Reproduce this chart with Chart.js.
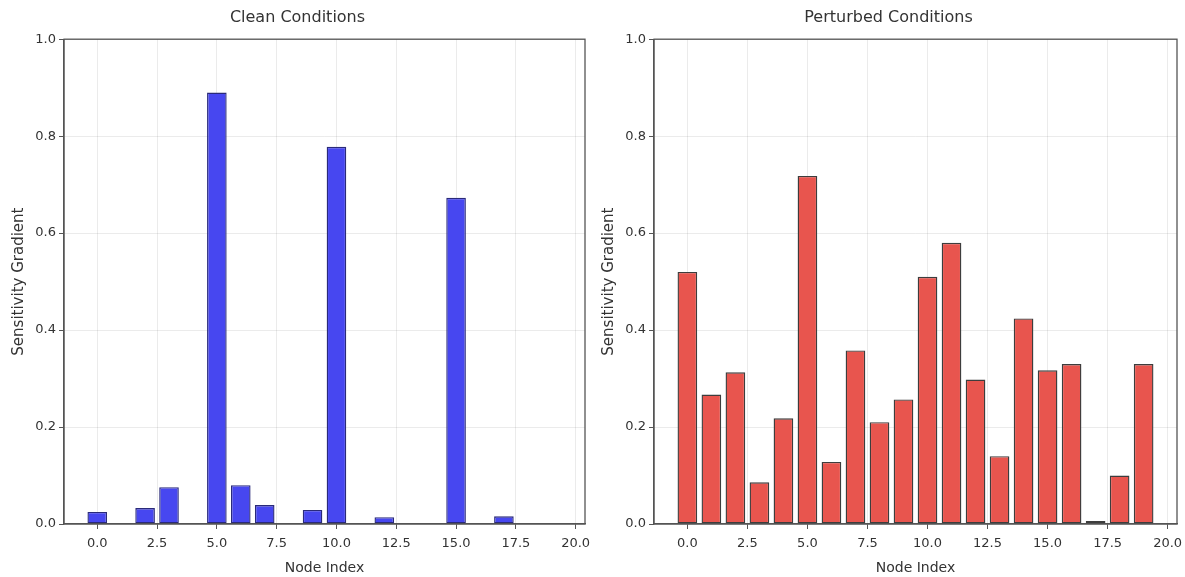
<!DOCTYPE html>
<html>
<head>
<meta charset="utf-8">
<script src="https://cdn.jsdelivr.net/npm/chart.js@4"></script>
<style>
  body { margin: 0; background: #fff; }
  .box { position: absolute; top: 0; height: 577px; }
</style>
</head>
<body>
<div class="box" style="left:0;width:592px"><canvas id="clean"></canvas></div>
<div class="box" style="left:592px;width:593px"><canvas id="perturbed"></canvas></div>
<script>
// node indices and gradient values
var nodeIdx = [0, 1, 2, 3, 4, 5, 6, 7, 8, 9, 10, 11, 12, 13, 14, 15, 16, 17, 18, 19];
var cleanVals = [0.025, 0, 0.033, 0.076, 0, 0.89, 0.080, 0.039, 0, 0.029,
                 0.778, 0, 0.014, 0, 0, 0.673, 0, 0.016, 0, 0];
var perturbedVals = [0.52, 0.267, 0.313, 0.086, 0.218, 0.718, 0.128, 0.358, 0.21, 0.257,
                     0.51, 0.58, 0.298, 0.14, 0.424, 0.317, 0.33, 0.006, 0.10, 0.33];
var xTicks = [0, 2.5, 5, 7.5, 10, 12.5, 15, 17.5, 20];
var yTicks = [0, 0.2, 0.4, 0.6, 0.8, 1.0];

var font = "'DejaVu Sans', 'Liberation Sans', sans-serif";
Chart.defaults.font.family = font;
Chart.defaults.color = '#333';

// matplotlib style frame around the plot area
var framePlugin = {
    id: 'frame',
    afterDraw: function(chart) {
        var a = chart.chartArea, c = chart.ctx;
        c.save();
        c.strokeStyle = '#555';
        c.lineWidth = 1.3;
        c.strokeRect(a.left, a.top, a.right - a.left, a.bottom - a.top);
        c.restore();
    }
};

function makeChart(id, title, vals, fill, edge, padLeft, yWidth, padRight) {
    var points = nodeIdx.map(function(n, i) { return { x: n, y: vals[i] }; });
    return new Chart(document.getElementById(id), {
        type: 'bar',
        data: {
            datasets: [{
                data: points,
                backgroundColor: fill,
                borderColor: edge,
                borderWidth: 1.4,
                borderSkipped: false,
                barPercentage: 0.82,
                categoryPercentage: 1.0
            }]
        },
        options: {
            responsive: true,
            maintainAspectRatio: false,
            animation: false,
            layout: { padding: { left: padLeft, right: padRight, top: 0, bottom: 0 } },
            plugins: {
                legend: { display: false },
                tooltip: { enabled: false },
                title: {
                    display: true,
                    text: title,
                    color: '#333',
                    font: { size: 16, weight: 'normal' },
                    padding: { top: 8, bottom: 12 }
                }
            },
            scales: {
                x: {
                    type: 'linear',
                    offset: false,
                    min: -1.39,
                    max: 20.39,
                    afterBuildTicks: function(s) { s.ticks = xTicks.map(function(v) { return { value: v }; }); },
                    afterFit: function(s) { s.height = 53; s.paddingLeft = 0; s.paddingRight = 0; },
                    grid: { offset: false, color: 'rgba(0,0,0,0.08)', tickColor: '#555', tickLength: 5 },
                    border: { color: '#555', width: 1.3 },
                    ticks: {
                        font: { size: 13 },
                        padding: 7,
                        callback: function(v) { return Number(v).toFixed(1); }
                    },
                    title: { display: true, text: 'Node Index', font: { size: 14 }, padding: { top: 0, bottom: 0 } }
                },
                y: {
                    min: 0,
                    max: 1,
                    afterBuildTicks: function(s) { s.ticks = yTicks.map(function(v) { return { value: v }; }); },
                    afterFit: function(s) { s.width = yWidth; },
                    grid: { color: 'rgba(0,0,0,0.08)', tickColor: '#555', tickLength: 5 },
                    border: { color: '#555', width: 1.3 },
                    ticks: {
                        font: { size: 13 },
                        padding: 3,
                        callback: function(v) { return Number(v).toFixed(1); }
                    },
                    title: { display: true, text: 'Sensitivity Gradient', font: { size: 15 }, padding: { top: 0, bottom: 0 } }
                }
            }
        },
        plugins: [framePlugin]
    });
}

makeChart('clean', 'Clean Conditions', cleanVals, '#4747f0', '#2a2a7a', 10, 54, 7);
makeChart('perturbed', 'Perturbed Conditions', perturbedVals, '#e8554e', '#3d3d3d', 8, 54, 8);
</script>
</body>
</html>
